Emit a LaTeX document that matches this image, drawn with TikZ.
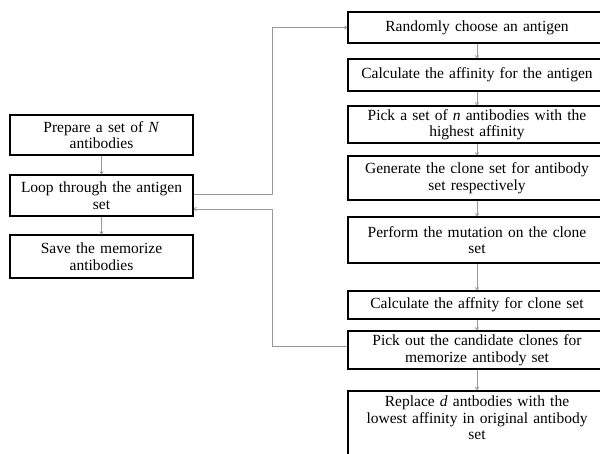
\documentclass[tikz,border=0pt]{standalone}
\usepackage{fontspec}
\setmainfont{Liberation Serif}
\usetikzlibrary{arrows.meta}
\tikzset{
  caja/.style={draw=black, line width=1.5pt, inner sep=0pt, align=center,
               font=\fontsize{15.5}{16.5}\selectfont},
  cajaizq/.style={caja, minimum width=183pt, text width=180pt},
  cajader/.style={caja, minimum width=258pt, text width=254pt},
  flecha/.style={draw=black!40, line width=0.8pt, -{To[length=3pt,width=4pt]}}
}
\begin{document}
\begin{tikzpicture}[x=1pt,y=-1pt]
   \useasboundingbox (0,0) rectangle (600,453);
   \clip (0,0) rectangle (600,453);

   % columna izquierda
   \node[cajaizq, minimum height=40pt] (prep) at (101.5,135) {Prepare a set of \textit{N}\\antibodies};
   \node[cajaizq, minimum height=41pt] (loop) at (101.5,195.5) {Loop through the antigen\\set};
   \node[cajaizq, minimum height=43pt] (save) at (101.5,256.5) {Save the memorize\\antibodies};

   % columna derecha
   \node[cajader, minimum height=31pt] (r1) at (477,27.5) {Randomly choose an antigen};
   \node[cajader, minimum height=32pt] (r2) at (477,75) {Calculate the affinity for the antigen};
   \node[cajader, minimum height=37pt] (r3) at (477,124.5) {Pick a set of \textit{n} antibodies with the\\highest affinity};
   \node[cajader, minimum height=44pt] (r4) at (477,178) {Generate the clone set for antibody\\set respectively};
   \node[cajader, minimum height=46pt] (r5) at (477,240) {Perform the mutation on the clone\\set};
   \node[cajader, minimum height=28pt] (r6) at (477,305) {Calculate the affnity for clone set};
   \node[cajader, minimum height=38pt] (r7) at (477,350) {Pick out the candidate clones for\\memorize antibody set};
   \node[cajader, anchor=north, inner ysep=5pt] (r8) at (477,390)
      {Replace \textit{d} antbodies with the\\lowest affinity in original antibody\\set\rule[-30pt]{0pt}{0pt}};

   \draw[flecha] (prep) -- (loop);
   \draw[flecha] (loop) -- (save);
   \draw[flecha] (r1) -- (r2);
   \draw[flecha] (r2) -- (r3);
   \draw[flecha] (r3) -- (r4);
   \draw[flecha] (r4) -- (r5);
   \draw[flecha] (r5) -- (r6);
   \draw[flecha] (r6) -- (r7);
   \draw[flecha] (r7) -- (r8);

   % lazo
   \coordinate (codo) at (272,0);
   \coordinate (sal) at ([yshift=1.5pt]loop.east);
   \coordinate (ent) at ([yshift=-13.5pt]loop.east);
   \coordinate (vuelta) at ([yshift=4pt]r7.west);
   \draw[flecha] (sal) -- (sal -| codo) |- (r1.west);
   \draw[flecha] (vuelta) -- (vuelta -| codo) |- (ent);
\end{tikzpicture}
\end{document}
